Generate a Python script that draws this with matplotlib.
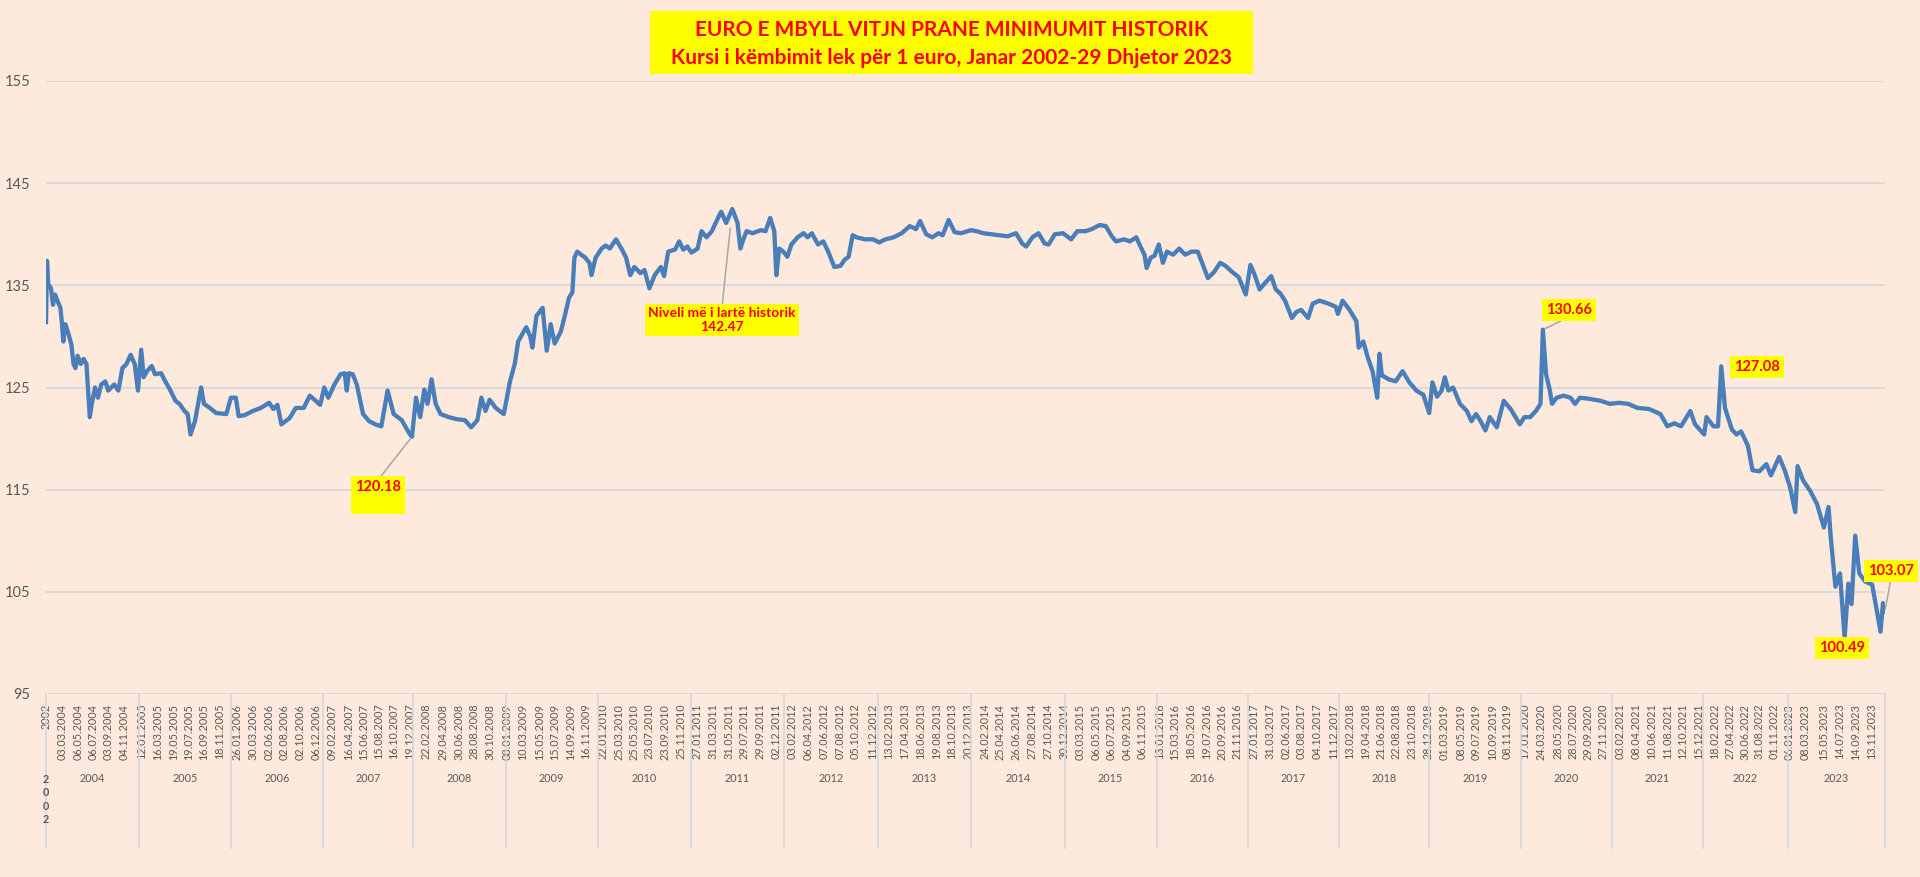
import numpy as np
import matplotlib.pyplot as plt
from datetime import date

plt.rcParams['font.family'] = ['Lato', 'DejaVu Sans']

# --- data ---
vitet = list(range(2004, 2024))
# observations per year on the category axis (widths of the year groups)
vezhgime_ne_vit = [253, 250, 250, 245, 253, 250, 253, 253, 256, 253,
                   256, 250, 248, 248, 245, 250, 248, 248, 231, 264]

kursi_2002 = 131.4

koha = [
    2004.011, 2004.024, 2004.054, 2004.075, 2004.097, 2004.118, 2004.155, 2004.172, 2004.186, 2004.208,
    2004.243, 2004.273, 2004.296, 2004.317, 2004.340, 2004.374, 2004.405, 2004.435, 2004.471, 2004.492,
    2004.528, 2004.559, 2004.594, 2004.638, 2004.669, 2004.734, 2004.778, 2004.822, 2004.866, 2004.910,
    2004.954, 2004.989,
    2005.024, 2005.051, 2005.087, 2005.139, 2005.174, 2005.241, 2005.286, 2005.343, 2005.397, 2005.441,
    2005.495, 2005.530, 2005.561, 2005.609, 2005.676, 2005.707, 2005.772, 2005.840, 2005.951,
    2006.000, 2006.054, 2006.085, 2006.152, 2006.239, 2006.326, 2006.417, 2006.462, 2006.507, 2006.550,
    2006.639, 2006.707, 2006.793, 2006.859, 2006.924, 2006.972,
    2007.017, 2007.062, 2007.130, 2007.198, 2007.244, 2007.267, 2007.289, 2007.333, 2007.378, 2007.448,
    2007.516, 2007.583, 2007.651, 2007.720, 2007.788, 2007.833, 2007.878, 2007.922, 2007.969, 2007.991,
    2008.035, 2008.080, 2008.124, 2008.159, 2008.202, 2008.246, 2008.299, 2008.387, 2008.473, 2008.562,
    2008.628, 2008.695, 2008.738, 2008.782, 2008.826, 2008.892, 2008.978,
    2009.000, 2009.046, 2009.098, 2009.135, 2009.178, 2009.223, 2009.267, 2009.290, 2009.334, 2009.401,
    2009.446, 2009.489, 2009.533, 2009.600, 2009.645, 2009.689, 2009.725, 2009.747, 2009.778, 2009.822,
    2009.866, 2009.911, 2009.933, 2009.978,
    2010.043, 2010.086, 2010.131, 2010.197, 2010.262, 2010.306, 2010.351, 2010.395, 2010.460, 2010.504,
    2010.557, 2010.614, 2010.680, 2010.715, 2010.759, 2010.833, 2010.877, 2010.921, 2010.965,
    2011.009, 2011.075, 2011.118, 2011.172, 2011.228, 2011.295, 2011.329, 2011.382, 2011.448, 2011.505,
    2011.535, 2011.567, 2011.602, 2011.667, 2011.755, 2011.806, 2011.856, 2011.900, 2011.922, 2011.953,
    2011.997,
    2012.040, 2012.083, 2012.149, 2012.213, 2012.255, 2012.300, 2012.366, 2012.422, 2012.474, 2012.539,
    2012.604, 2012.648, 2012.691, 2012.734, 2012.777, 2012.865, 2012.952,
    2013.017, 2013.083, 2013.171, 2013.258, 2013.346, 2013.412, 2013.456, 2013.522, 2013.588, 2013.654,
    2013.699, 2013.763, 2013.828, 2013.895,
    2014.004, 2014.064, 2014.135, 2014.221, 2014.309, 2014.394, 2014.482, 2014.547, 2014.590, 2014.656,
    2014.721, 2014.786, 2014.830, 2014.894, 2014.982,
    2015.070, 2015.137, 2015.225, 2015.293, 2015.380, 2015.446, 2015.513, 2015.558, 2015.647, 2015.707,
    2015.779, 2015.824, 2015.868, 2015.891, 2015.935, 2015.978,
    2016.024, 2016.069, 2016.113, 2016.181, 2016.248, 2016.315, 2016.382, 2016.451, 2016.495, 2016.563,
    2016.630, 2016.697, 2016.758, 2016.830, 2016.901, 2016.978,
    2017.029, 2017.077, 2017.130, 2017.187, 2017.257, 2017.308, 2017.358, 2017.409, 2017.484, 2017.535,
    2017.586, 2017.662, 2017.712, 2017.788, 2017.889, 2017.965, 2017.989,
    2018.041, 2018.118, 2018.194, 2018.220, 2018.271, 2018.322, 2018.374, 2018.426, 2018.451, 2018.477,
    2018.553, 2018.630, 2018.707, 2018.783, 2018.860, 2018.937,
    2019.003, 2019.038, 2019.088, 2019.138, 2019.173, 2019.213, 2019.263, 2019.338, 2019.413, 2019.463,
    2019.513, 2019.563, 2019.614, 2019.663, 2019.739, 2019.814, 2019.889, 2019.989,
    2020.040, 2020.103, 2020.166, 2020.216, 2020.242, 2020.277, 2020.319, 2020.343, 2020.393, 2020.469,
    2020.545, 2020.596, 2020.648, 2020.747, 2020.875, 2020.976,
    2021.077, 2021.176, 2021.279, 2021.405, 2021.532, 2021.608, 2021.684, 2021.758, 2021.860, 2021.911,
    2022.013, 2022.040, 2022.122, 2022.176, 2022.214, 2022.258, 2022.339, 2022.393, 2022.447, 2022.528,
    2022.582, 2022.664, 2022.745, 2022.799, 2022.896, 2022.961,
    2023.023, 2023.075, 2023.099, 2023.156, 2023.227, 2023.299, 2023.370, 2023.418, 2023.441, 2023.489,
    2023.536, 2023.584, 2023.622, 2023.655, 2023.693, 2023.735, 2023.797, 2023.868, 2023.954, 2023.979,
    2023.999,
]

kursi = [
    137.4, 135.1, 134.7, 133.1, 134.1, 133.6, 132.8, 131.2, 129.5, 131.2,
    130.2, 129.2, 127.3, 126.9, 128.1, 127.3, 127.8, 127.3, 122.1, 123.4,
    125.0, 124.0, 125.3, 125.6, 124.7, 125.3, 124.7, 126.9, 127.3, 128.2,
    127.3, 124.7,
    128.7, 126.0, 126.6, 127.1, 126.3, 126.4, 125.6, 124.7, 123.7, 123.4,
    122.7, 122.4, 120.4, 121.7, 125.0, 123.4, 123.0, 122.5, 122.4,
    124.0, 124.0, 122.2, 122.3, 122.7, 123.0, 123.5, 122.9, 123.3, 121.4,
    122.0, 123.0, 123.0, 124.2, 123.7, 123.3,
    125.0, 124.0, 125.3, 126.3, 126.4, 124.7, 126.4, 126.3, 125.3, 122.4,
    121.7, 121.4, 121.2, 124.7, 122.4, 122.1, 121.8, 121.1, 120.4, 120.18,
    124.0, 122.1, 124.8, 123.4, 125.8, 123.4, 122.4, 122.1, 121.9, 121.8,
    121.1, 121.8, 124.0, 122.7, 123.8, 123.0, 122.4,
    123.4, 125.6, 127.3, 129.5, 130.2, 130.9, 130.0, 128.9, 132.0, 132.8,
    128.6, 131.2, 129.3, 130.5, 132.1, 133.8, 134.3, 137.7, 138.3, 138.0,
    137.7, 137.2, 136.0, 137.7,
    138.6, 138.9, 138.6, 139.5, 138.5, 137.7, 136.0, 136.8, 136.2, 136.5,
    134.7, 136.0, 136.8, 135.9, 138.3, 138.5, 139.3, 138.5, 138.8,
    138.2, 138.6, 140.3, 139.7, 140.3, 141.6, 142.2, 141.1, 142.47, 141.1,
    138.6, 139.5, 140.3, 140.1, 140.4, 140.3, 141.6, 140.3, 136.0, 138.6,
    138.3,
    137.8, 139.0, 139.7, 140.1, 139.7, 140.1, 139.0, 139.3, 138.3, 136.8,
    136.9, 137.5, 137.8, 139.9, 139.7, 139.5, 139.5,
    139.2, 139.5, 139.7, 140.1, 140.8, 140.5, 141.3, 140.0, 139.7, 140.1,
    139.9, 141.4, 140.2, 140.1,
    140.4, 140.3, 140.1, 140.0, 139.9, 139.8, 140.1, 139.1, 138.8, 139.7,
    140.1, 139.1, 139.0, 140.0, 140.1,
    139.5, 140.3, 140.3, 140.5, 140.9, 140.8, 139.8, 139.3, 139.5, 139.3,
    139.7, 138.8, 138.0, 136.7, 137.7, 137.9,
    139.0, 137.2, 138.3, 138.0, 138.6, 138.0, 138.3, 138.3, 137.3, 135.7,
    136.3, 137.2, 136.9, 136.3, 135.8, 134.1,
    137.0, 136.0, 134.6, 135.2, 135.9, 134.6, 134.2, 133.5, 131.8, 132.4,
    132.6, 131.8, 133.2, 133.5, 133.2, 132.9, 132.2,
    133.5, 132.6, 131.5, 128.9, 129.5, 127.9, 126.6, 124.0, 128.3, 126.2,
    125.8, 125.6, 126.6, 125.5, 124.7, 124.3,
    122.5, 125.5, 124.1, 124.7, 126.0, 124.7, 125.0, 123.4, 122.7, 121.7,
    122.4, 121.7, 120.8, 122.1, 121.1, 123.7, 122.9, 121.4,
    122.1, 122.1, 122.7, 123.4, 130.66, 126.3, 124.7, 123.4, 124.0, 124.2,
    124.0, 123.4, 124.0, 123.9, 123.7, 123.4,
    123.5, 123.4, 123.0, 122.9, 122.4, 121.2, 121.5, 121.2, 122.7, 121.4,
    120.4, 122.1, 121.2, 121.2, 127.08, 123.0, 120.9, 120.4, 120.7, 119.3,
    116.9, 116.8, 117.5, 116.4, 118.2, 116.9,
    115.2, 112.8, 117.3, 115.9, 114.9, 113.6, 111.3, 113.3, 110.3, 105.5,
    106.8, 100.49, 105.8, 103.8, 110.5, 106.8, 106.0, 105.7, 101.1, 103.9,
    103.07,
]

etiketat_datave = [
    "03.03.2004", "06.05.2004", "06.07.2004", "03.09.2004", "04.11.2004",
    "12.01.2005", "16.03.2005", "19.05.2005", "19.07.2005", "16.09.2005", "18.11.2005",
    "26.01.2006", "30.03.2006", "02.06.2006", "02.08.2006", "02.10.2006", "06.12.2006",
    "09.02.2007", "16.04.2007", "15.06.2007", "15.08.2007", "16.10.2007", "19.12.2007",
    "22.02.2008", "29.04.2008", "30.06.2008", "28.08.2008", "30.10.2008",
    "08.01.2009", "10.03.2009", "15.05.2009", "15.07.2009", "14.09.2009", "16.11.2009",
    "22.01.2010", "25.03.2010", "25.05.2010", "23.07.2010", "23.09.2010", "25.11.2010",
    "27.01.2011", "31.03.2011", "31.05.2011", "29.07.2011", "29.09.2011", "02.12.2011",
    "03.02.2012", "06.04.2012", "07.06.2012", "07.08.2012", "05.10.2012", "11.12.2012",
    "13.02.2013", "17.04.2013", "18.06.2013", "19.08.2013", "18.10.2013", "20.12.2013",
    "24.02.2014", "25.04.2014", "26.06.2014", "27.08.2014", "27.10.2014", "30.12.2014",
    "03.03.2015", "06.05.2015", "06.07.2015", "04.09.2015", "06.11.2015",
    "13.01.2016", "15.03.2016", "18.05.2016", "19.07.2016", "20.09.2016", "21.11.2016",
    "27.01.2017", "31.03.2017", "02.06.2017", "03.08.2017", "04.10.2017", "11.12.2017",
    "13.02.2018", "19.04.2018", "21.06.2018", "22.08.2018", "23.10.2018", "28.12.2018",
    "01.03.2019", "08.05.2019", "09.07.2019", "10.09.2019", "08.11.2019",
    "17.01.2020", "24.03.2020", "28.05.2020", "28.07.2020", "29.09.2020", "27.11.2020",
    "03.02.2021", "08.04.2021", "10.06.2021", "11.08.2021", "12.10.2021", "15.12.2021",
    "18.02.2022", "27.04.2022", "30.06.2022", "31.08.2022", "01.11.2022",
    "06.01.2023", "08.03.2023", "15.05.2023", "14.07.2023", "14.09.2023", "13.11.2023",
]

titulli_1 = "EURO E MBYLL VITJN PRANE MINIMUMIT HISTORIK"
titulli_2 = "Kursi i këmbimit lek për 1 euro, Janar 2002-29 Dhjetor 2023"

# --- category-axis positions ---
w = np.array(vezhgime_ne_vit, float)
fillimet = np.concatenate([[0], np.cumsum(w)[:-1]])
gjithsej = w.sum()


def pozicioni(t):
    t = np.asarray(t, float)
    i = np.clip(np.floor(t).astype(int) - vitet[0], 0, len(vitet) - 1)
    return fillimet[i] + (t - (i + vitet[0])) * w[i]


def data_ne_vit(s):
    d, m, y = (int(v) for v in s.split('.'))
    n = (date(y, 12, 31) - date(y, 1, 1)).days + 1
    return y + ((date(y, m, d) - date(y, 1, 1)).days) / n


x = np.concatenate([[0.0], pozicioni(koha)])
y = np.concatenate([[kursi_2002], kursi])

sfondi = '#FDEADC'
gri = '#595959'
vija_grid = '#D9D9D9'

fig = plt.figure(figsize=(19.2, 8.77), dpi=100, facecolor=sfondi)
H = 877
ax = fig.add_axes([46 / 1920, (H - 694) / H, 1839 / 1920, 613 / H], facecolor=sfondi)

ax.plot(x, y, color='#4A7EBB', lw=3.1, solid_joinstyle='round', zorder=3)

ax.set_xlim(0, gjithsej)
ax.set_ylim(95, 155)
ax.set_yticks(range(95, 156, 10))
ax.yaxis.grid(True, color=vija_grid, lw=1.3, zorder=0)
for s in ax.spines.values():
    s.set_visible(False)
ax.tick_params(axis='y', length=0, pad=11, labelsize=10.5, labelcolor=gri)

tick_pos = [0.0] + list(pozicioni([data_ne_vit(s) for s in etiketat_datave]))
ax.set_xticks(tick_pos)
ax.set_xticklabels(["2002"] + etiketat_datave, rotation=90, va='top', ha='center')
ax.tick_params(axis='x', length=0, pad=7, labelsize=7.8, labelcolor=gri)

trans = ax.get_xaxis_transform()
y_sep = -(848 - 694) / 613
y_vit = -(779 - 694) / 613
kufijte = list(fillimet) + [gjithsej]
for p in kufijte:
    ax.plot([p, p], [0, y_sep], transform=trans, clip_on=False, color=vija_grid, lw=1.3)
for v, f, ww in zip(vitet, fillimet, w):
    ax.text(f + ww / 2, y_vit, str(v), transform=trans, ha='center', va='center',
            fontsize=7.8, color=gri)
ax.text(0, y_vit + 5 / 613, "2\n0\n0\n2", transform=trans, ha='center', va='top',
        fontsize=7.8, color=gri, fontweight='bold', linespacing=1.25)

# --- title box ---
fig.patches.append(plt.Rectangle((650, H - 74), 603, 63, transform=None,
                                 facecolor='#FFFF00', edgecolor='none', zorder=5))
fig.text(951.5 / 1920, (H - 30) / H, titulli_1, ha='center', va='center',
         color='#FF0000', fontsize=15, fontweight='bold', zorder=6)
fig.text(951.5 / 1920, (H - 58) / H, titulli_2, ha='center', va='center',
         color='#FF0000', fontsize=15, fontweight='bold', zorder=6)

# --- annotations ---
kuti = dict(boxstyle='square,pad=0.25', facecolor='#FFFF00', edgecolor='none')
lidhja = dict(arrowstyle='-', color='#A6A6A6', lw=1.1, shrinkA=0, shrinkB=2)
stil = dict(color='#FF0000', fontweight='bold', fontsize=10.5, ha='center', va='center',
            textcoords='figure pixels', bbox=kuti, zorder=6)

i_min07 = int(np.argmin(np.where(x < fillimet[5], y, 999)))
i_max = int(np.argmax(y))
i_2020 = int(np.argmax(np.where((x > fillimet[16]) & (x < fillimet[17]), y, 0)))
i_2022 = int(np.argmax(np.where(x > fillimet[18], y, 0)))
i_min = int(np.argmin(y))
i_fund = len(y) - 1

ax.annotate("120.18\n ", xy=(x[i_min07], y[i_min07]), xytext=(378, H - 495),
            arrowprops=dict(lidhja, relpos=(0.5, 1)), **stil)
ax.annotate("Niveli më i lartë historik\n142.47", xy=(x[i_max], y[i_max]),
            xytext=(722, H - 320), arrowprops=dict(lidhja, relpos=(0.5, 1), shrinkB=14),
            **dict(stil, fontsize=10))
ax.annotate(f"{y[i_2020]:.2f}", xy=(x[i_2020], y[i_2020]), xytext=(1569, H - 310),
            arrowprops=dict(lidhja, relpos=(0.5, 0)), **stil)
ax.annotate(f"{y[i_2022]:.2f}", xy=(x[i_2022], y[i_2022]), xytext=(1757, H - 367), **stil)
ax.annotate(f"{y[i_min]:.2f}", xy=(x[i_min], y[i_min]), xytext=(1842, H - 648), **stil)
ax.annotate(f"{y[i_fund]:.2f}", xy=(x[i_fund], y[i_fund]), xytext=(1891, H - 571),
            arrowprops=dict(lidhja, relpos=(0.5, 0)), annotation_clip=False, **stil)

fig.savefig('out.png', dpi=100, facecolor=sfondi)
